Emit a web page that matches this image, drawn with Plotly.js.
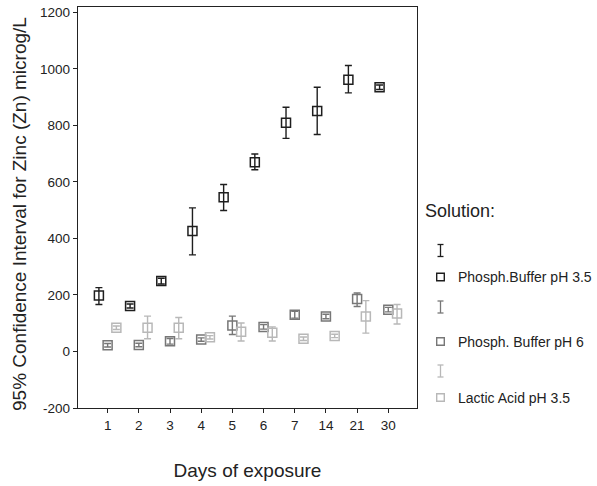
<!DOCTYPE html>
<html>
<head>
<meta charset="utf-8">
<script src="https://cdn.plot.ly/plotly-3.0.1.min.js"></script>
<style>html,body{margin:0;padding:0;background:#fff;}#chart{width:597px;height:486px;}</style>
</head>
<body>
<div id="chart"></div>
<script>
// Data
var days = ["1", "2", "3", "4", "5", "6", "7", "14", "21", "30"];
var seriesNames = ["Phosph.Buffer pH 3.5", "Phosph. Buffer pH 6", "Lactic Acid pH 3.5"];
var seriesColors = ["#1e1e1e", "#777777", "#b8b8b8"];
var yTickVals = [-200, 0, 200, 400, 600, 800, 1000, 1200];
var yTickText = ["-200", "0", "200", "400", "600", "800", "1000", "1200"];

var pb35Mean  = [198, 161, 249, 426, 546, 670, 809, 851, 962, 935];
var pb35Upper = [226, 168, 259, 508, 591, 699, 864, 935, 1012, 943];
var pb35Lower = [166, 154, 239, 342, 499, 643, 754, 768, 915, 927];

var pb6Mean  = [22, 23, 36, 42, 92, 87, 130, 124, 186, 148];
var pb6Upper = [28, 29, 46, 48, 125, 95, 142, 132, 207, 156];
var pb6Lower = [16, 17, 26, 36, 60, 79, 118, 116, 159, 140];

var laMean  = [84, 84, 84, 50, 70, 66, 45, 55, 124, 134];
var laUpper = [90, 125, 120, 56, 101, 87, 51, 61, 180, 166];
var laLower = [78, 45, 45, 44, 37, 37, 39, 49, 65, 97];

var means = [pb35Mean, pb6Mean, laMean];
var uppers = [pb35Upper, pb6Upper, laUpper];
var lowers = [pb35Lower, pb6Lower, laLower];

var traces = means.map(function (m, i) {
  return {
    type: "scatter",
    mode: "markers",
    name: seriesNames[i],
    x: days,
    y: m,
    marker: {symbol: "square-open", size: 9, color: seriesColors[i], line: {width: 1.5, color: seriesColors[i]}},
    error_y: {
      type: "data",
      symmetric: false,
      array: uppers[i].map(function (u, k) { return u - m[k]; }),
      arrayminus: lowers[i].map(function (l, k) { return m[k] - l; }),
      color: seriesColors[i],
      thickness: 1.4,
      width: 3.5
    },
    showlegend: false,
    hoverinfo: "x+y"
  };
});

// Legend built from shapes + annotations (paper coords)
var L = 78, R = 417, T = 7, B = 408;
function px(x) { return (x - L) / (R - L); }
function py(y) { return (B - y) / (B - T); }
var FONT = "Liberation Sans, Arial, sans-serif";

var shapes = [];
var annotations = [];
annotations.push({xref: "paper", yref: "paper", x: px(20), y: py(214), xanchor: "center", yanchor: "middle",
  textangle: -90, text: "95% Confidence Interval for Zinc (Zn) microg/L", showarrow: false,
  font: {family: FONT, size: 19, color: "#222"}});
annotations.push({xref: "paper", yref: "paper", x: px(423), y: py(211), xanchor: "left", yanchor: "middle",
  text: "Solution:", showarrow: false, font: {family: FONT, size: 18, color: "#222"}});
var barY = [250.5, 307, 371];
var sqY = [277, 341.5, 397.5];
var symX = 440.5;
for (var i = 0; i < 3; i++) {
  var c = seriesColors[i];
  var yc = barY[i], h = 6, w = 3;
  shapes.push({type: "line", xref: "paper", yref: "paper", x0: px(symX), x1: px(symX), y0: py(yc - h), y1: py(yc + h), line: {color: c, width: 1.3}});
  shapes.push({type: "line", xref: "paper", yref: "paper", x0: px(symX - w), x1: px(symX + w), y0: py(yc - h), y1: py(yc - h), line: {color: c, width: 1.3}});
  shapes.push({type: "line", xref: "paper", yref: "paper", x0: px(symX - w), x1: px(symX + w), y0: py(yc + h), y1: py(yc + h), line: {color: c, width: 1.3}});
  var s = 3.8;
  shapes.push({type: "rect", xref: "paper", yref: "paper", x0: px(symX - s), x1: px(symX + s), y0: py(sqY[i] - s), y1: py(sqY[i] + s), line: {color: c, width: 1.4}});
  annotations.push({xref: "paper", yref: "paper", x: px(456), y: py(sqY[i]), xanchor: "left", yanchor: "middle",
    text: seriesNames[i], showarrow: false, font: {family: FONT, size: 14, color: "#222"}});
}

var layout = {
  width: 597, height: 486,
  margin: {l: L, r: 597 - R, t: T, b: 486 - B},
  paper_bgcolor: "#fff", plot_bgcolor: "#fff",
  font: {family: FONT, size: 13, color: "#222"},
  scattermode: "group",
  scattergap: 0.16,
  xaxis: {
    type: "category",
    range: [-0.95, 9.92],
    showgrid: false, zeroline: false,
    showline: true, mirror: true, linecolor: "#222", linewidth: 1.3,
    ticks: "outside", ticklen: 4, tickcolor: "#222",
    tickfont: {size: 13.5},
    title: {text: "Days of exposure", font: {size: 19}, standoff: 32}
  },
  yaxis: {
    range: [-200, 1219],
    tickmode: "array",
    tickvals: yTickVals,
    ticktext: yTickText,
    ticklabeloverflow: "allow",
    showgrid: false, zeroline: false,
    showline: true, mirror: true, linecolor: "#222", linewidth: 1.3,
    ticks: "outside", ticklen: 4, tickcolor: "#222",
    tickfont: {size: 13.5}
  },
  shapes: shapes,
  annotations: annotations
};

Plotly.newPlot("chart", traces, layout, {displayModeBar: false, staticPlot: true});
</script>
</body>
</html>
